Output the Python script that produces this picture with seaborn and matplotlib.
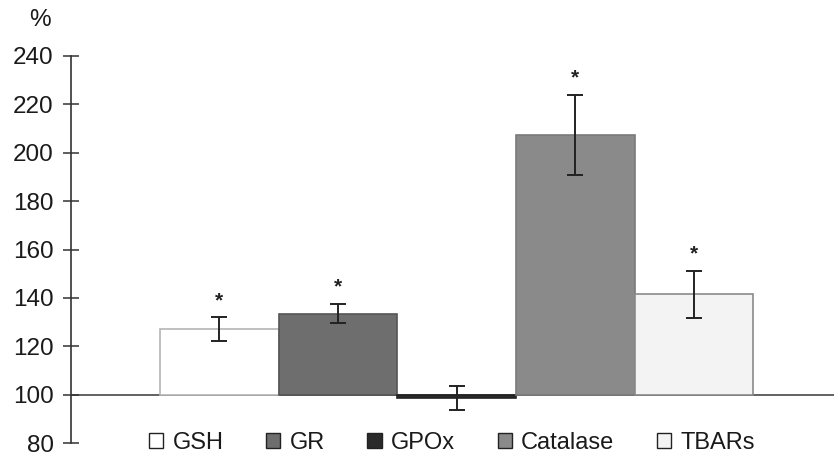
import numpy as np
import pandas as pd
import matplotlib
matplotlib.use("Agg")
import matplotlib.pyplot as plt
from matplotlib.patches import Patch
import seaborn as sns

# datos (% respecto al control = 100)
categorias = ["GSH", "GR", "GPOx", "Catalase", "TBARs"]
valores = [127, 133.5, 98.5, 207.5, 141.5]
errores = [5, 4, 5, 16.5, 9.7]
significativo = [True, True, False, True, True]
base = 100

colores = ["#ffffff", "#6e6e6e", "#2a2a2a", "#8a8a8a", "#f3f3f3"]
bordes = ["#b5b5b5", "#555555", "#222222", "#7a7a7a", "#8a8a8a"]

sns.set_style("white")
plt.rcParams["font.family"] = ["Liberation Sans", "DejaVu Sans"]

df = pd.DataFrame({"cat": categorias, "alto": np.array(valores) - base})

fig = plt.figure(figsize=(8.34, 4.66), dpi=100)
ax = fig.add_axes([71 / 834, 1 - 443 / 466, 1 - 71 / 834, (443 - 56) / 466])

# linea base en 100
ax.axhline(base, color="#555555", lw=1.3, zorder=0.5)

sns.barplot(data=df, x="cat", y="alto", hue="cat", palette=colores,
            width=1.0, bottom=base, legend=False, ax=ax, zorder=2)
for p, b in zip(ax.patches, bordes):
    p.set_edgecolor(b)
    p.set_linewidth(1.2)

# barras de error y asteriscos
for i, (v, e, s) in enumerate(zip(valores, errores, significativo)):
    ax.errorbar(i, v, yerr=e, color="#222222", lw=1.4, capsize=6,
                capthick=1.4, zorder=3)
    if s:
        ax.text(i, v + e + 3, "*", ha="center", va="bottom",
                fontsize=15, color="#222222", fontweight="bold")

ax.set_xlim(-1.25, 5.18)
ax.set_ylim(80, 240)
ax.set_yticks(np.arange(80, 241, 20))
ax.set_xticks([])
ax.set_xlabel("")
ax.set_ylabel("")
ax.tick_params(axis="y", left=True, direction="inout", length=11, width=1.1,
               pad=7, labelsize=17.5, colors="#333333", labelcolor="#1a1a1a")
for lado in ["top", "right", "bottom"]:
    ax.spines[lado].set_visible(False)
ax.spines["left"].set_color("#333333")
ax.spines["left"].set_linewidth(1.2)

fig.text(40 / 834, 1 - 20 / 466, "%", ha="center", va="center",
         fontsize=17.5, color="#1a1a1a")

manejadores = [Patch(facecolor=c, edgecolor="#222222", lw=1.0) for c in colores]
fig.legend(manejadores, categorias, loc="center", ncol=5, frameon=False,
           bbox_to_anchor=(452 / 834, 1 - 443 / 466), fontsize=17,
           handlelength=0.6, handleheight=0.6, handletextpad=0.4,
           columnspacing=1.8, labelcolor="#1a1a1a")

plt.savefig("out.png", dpi=100)
